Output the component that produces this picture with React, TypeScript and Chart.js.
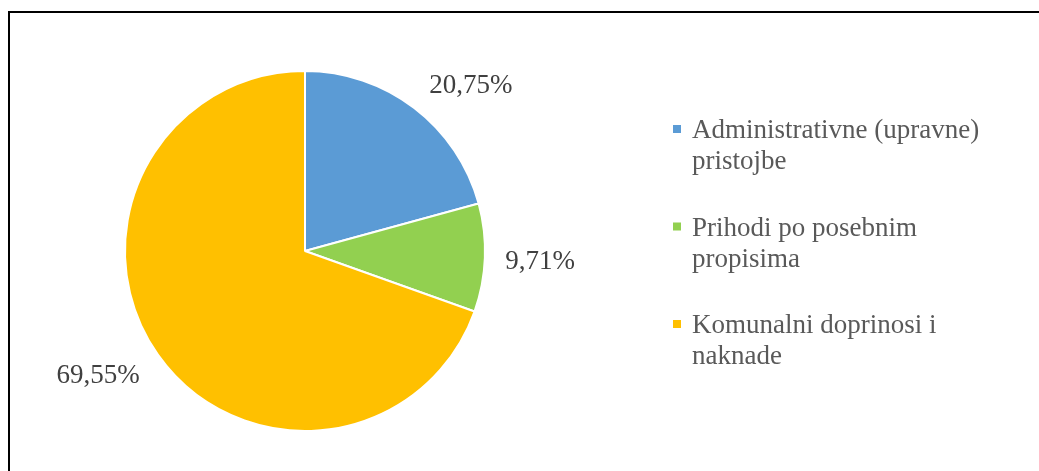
import React, { useEffect, useRef } from "react";
import { Chart, registerables } from "chart.js";

Chart.register(...registerables);

// ---- data ----
const categories = [
  "Administrativne (upravne) pristojbe",
  "Prihodi po posebnim propisima",
  "Komunalni doprinosi i naknade",
];
const shares = [20.75, 9.71, 69.55];
const sliceColors = ["#5B9BD5", "#92D050", "#FFC000"];

// ---- style / layout ----
const FONT = '"Liberation Serif", "Times New Roman", serif';
const LABEL_SIZE = 27;
const LABEL_COLOR = "#404040";
const LABEL_GAP = 20;
const LABEL_ANGLE_SHIFT_DEG = [7.3, 0, 4.5];
const LEGEND_STYLE = {
  boxX: 673,
  textX: 692,
  firstBaseline: 138,
  itemGap: 97.5,
  lineHeight: 31,
  maxWidth: 310,
  box: 8,
  size: 27,
  color: "#595959",
};

const fmt = (v: number) => v.toFixed(2).replace(".", ",") + "%";

const wrap = (ctx: CanvasRenderingContext2D, text: string, maxW: number) => {
  const words = text.split(" ");
  const lines: string[] = [];
  let cur = "";
  for (const w of words) {
    const test = cur ? cur + " " + w : w;
    if (ctx.measureText(test).width > maxW && cur) {
      lines.push(cur);
      cur = w;
    } else cur = test;
  }
  if (cur) lines.push(cur);
  return lines;
};

const overlayPlugin = {
  id: "overlay",
  afterDatasetsDraw(chart: any) {
    const ctx: CanvasRenderingContext2D = chart.ctx;
    const meta = chart.getDatasetMeta(0);
    const values = chart.data.datasets[0].data as number[];
    ctx.save();
    // data labels
    ctx.font = `${LABEL_SIZE}px ${FONT}`;
    ctx.fillStyle = LABEL_COLOR;
    ctx.textAlign = "center";
    ctx.textBaseline = "alphabetic";
    meta.data.forEach((arc: any, i: number) => {
      const p = arc.getProps(["x", "y", "startAngle", "endAngle", "outerRadius"], true);
      const mid = (p.startAngle + p.endAngle) / 2 + (LABEL_ANGLE_SHIFT_DEG[i] * Math.PI) / 180;
      const dx = Math.cos(mid);
      const dy = Math.sin(mid);
      const text = fmt(values[i]);
      const w = ctx.measureText(text).width;
      const h = LABEL_SIZE * 0.7;
      const ext = (Math.abs(dx) * w) / 2 + (Math.abs(dy) * h) / 2;
      const R = p.outerRadius + LABEL_GAP + ext;
      const cx = p.x + dx * R;
      const cy = p.y + dy * R;
      ctx.fillText(text, cx, cy + h / 2);
    });
    // legend
    ctx.font = `${LEGEND_STYLE.size}px ${FONT}`;
    ctx.textAlign = "left";
    const labels = chart.data.labels as string[];
    const colors = chart.data.datasets[0].backgroundColor as string[];
    labels.forEach((lab, i) => {
      const base = LEGEND_STYLE.firstBaseline + i * LEGEND_STYLE.itemGap;
      ctx.fillStyle = colors[i];
      ctx.fillRect(LEGEND_STYLE.boxX, base - 13, LEGEND_STYLE.box, LEGEND_STYLE.box);
      ctx.fillStyle = LEGEND_STYLE.color;
      wrap(ctx, lab, LEGEND_STYLE.maxWidth).forEach((line, j) => {
        ctx.fillText(line, LEGEND_STYLE.textX, base + j * LEGEND_STYLE.lineHeight);
      });
    });
    ctx.restore();
  },
};

export default function App() {
  const ref = useRef<HTMLCanvasElement | null>(null);
  useEffect(() => {
    if (!ref.current) return;
    const chart = new Chart(ref.current, {
      type: "pie",
      data: {
        labels: categories,
        datasets: [
          {
            data: shares,
            backgroundColor: sliceColors,
            borderColor: "#FFFFFF",
            borderWidth: 2,
          },
        ],
      },
      options: {
        responsive: false,
        animation: false,
        devicePixelRatio: 1,
        layout: { padding: { left: 124, top: 70, right: 553, bottom: 39 } },
        plugins: {
          legend: { display: false },
          tooltip: { enabled: false },
          title: { display: false },
        },
      },
      plugins: [overlayPlugin],
    });
    return () => chart.destroy();
  }, []);

  return (
    <div
      style={{
        position: "fixed",
        left: 0,
        top: 0,
        width: 1039,
        height: 471,
        overflow: "hidden",
        background: "#FFFFFF",
      }}
    >
      <div
        style={{
          position: "absolute",
          left: 8,
          top: 11,
          width: 1100,
          height: 500,
          borderTop: "2px solid #000",
          borderLeft: "2px solid #000",
        }}
      />
      <canvas
        ref={ref}
        width={1039}
        height={471}
        style={{ position: "absolute", left: 0, top: 0, width: 1039, height: 471 }}
      />
    </div>
  );
}
